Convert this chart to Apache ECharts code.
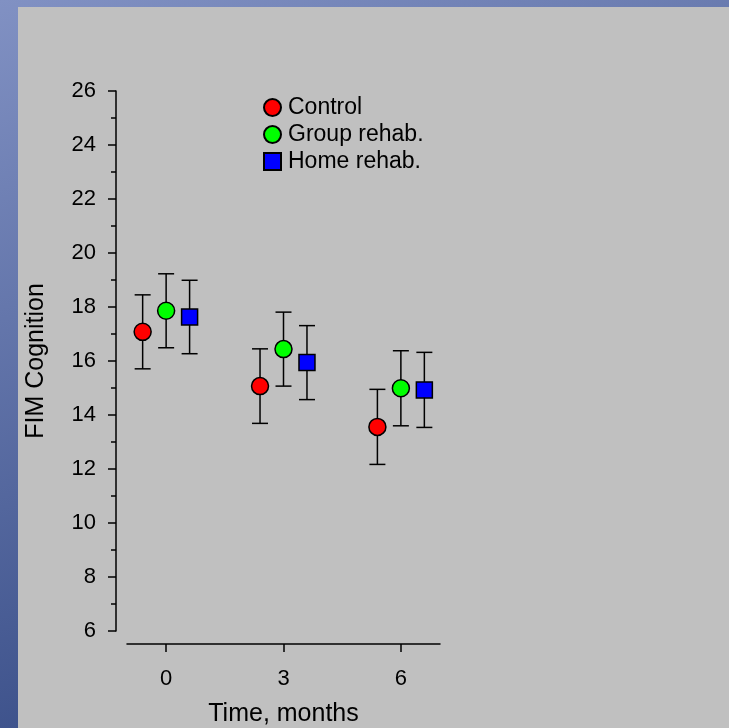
<!DOCTYPE html>
<html>
<head>
<meta charset="utf-8">
<script src="https://cdn.jsdelivr.net/npm/echarts@6/dist/echarts.min.js"></script>
<style>html,body{margin:0;padding:0;}#c{width:729px;height:728px;}</style>
</head>
<body>
<div id="c"></div>
<script>
var times = [0, 3, 6];
var xTicks = [0, 3, 6];
var yTicks = [6, 8, 10, 12, 14, 16, 18, 20, 22, 24, 26];
var seriesNames = ['Control', 'Group rehab.', 'Home rehab.'];
var offsets = [-0.6, 0, 0.6];
var control = [17.08, 15.07, 13.56];
var controlErr = [1.37, 1.38, 1.39];
var group = [17.86, 16.44, 14.99];
var groupErr = [1.37, 1.37, 1.39];
var home = [17.63, 15.94, 14.93];
var homeErr = [1.36, 1.37, 1.39];

var means = [control, group, home];
var errs = [controlErr, groupErr, homeErr];
var colors = ['#ff0000', '#00ff00', '#0000ff'];
var symbols = ['circle', 'circle', 'rect'];
var symbolSizes = [17, 17, 16];
var FONT = 'Liberation Sans, Arial, sans-serif';

var chart = echarts.init(document.getElementById('c'));
var series = [];
means.forEach(function (m, s) {
  var errData = times.map(function (t, i) {
    return [t + offsets[s], m[i] - errs[s][i], m[i] + errs[s][i]];
  });
  series.push({
    type: 'custom',
    name: seriesNames[s] + ' err',
    z: 1,
    silent: true,
    data: errData,
    renderItem: function (params, api) {
      var x = api.value(0);
      var lo = api.coord([x, api.value(1)]);
      var hi = api.coord([x, api.value(2)]);
      var cap = 8;
      var st = { stroke: '#000', lineWidth: 1.5 };
      return {
        type: 'group',
        children: [
          { type: 'line', shape: { x1: lo[0], y1: lo[1], x2: hi[0], y2: hi[1] }, style: st },
          { type: 'line', shape: { x1: lo[0] - cap, y1: lo[1], x2: lo[0] + cap, y2: lo[1] }, style: st },
          { type: 'line', shape: { x1: hi[0] - cap, y1: hi[1], x2: hi[0] + cap, y2: hi[1] }, style: st }
        ]
      };
    }
  });
  series.push({
    type: 'scatter',
    name: seriesNames[s],
    z: 5,
    symbol: symbols[s],
    symbolSize: symbolSizes[s],
    itemStyle: { color: colors[s], borderColor: '#000', borderWidth: 1.5, opacity: 1 },
    data: times.map(function (t, i) { return [t + offsets[s], m[i]]; })
  });
});

var option = {
  animation: false,
  backgroundColor: {
    type: 'linear', x: 0, y: 0, x2: 0.35, y2: 1,
    colorStops: [{ offset: 0, color: '#8191c3' }, { offset: 1, color: '#374c86' }]
  },
  graphic: [{
    type: 'rect', z: -10, silent: true,
    shape: { x: 18, y: 7, width: 729 - 18, height: 728 - 7 },
    style: { fill: '#c0c0c0' }
  }],
  textStyle: { fontFamily: FONT },
  legend: {
    data: seriesNames,
    orient: 'vertical',
    left: 263,
    top: 96,
    padding: 0,
    itemWidth: 17,
    itemHeight: 17,
    itemGap: 4,
    textStyle: { fontSize: 23, color: '#000', fontFamily: FONT, padding: [0, 0, 0, 2] },
    selectedMode: false
  },
  grid: { left: 127, right: 289, top: 91, bottom: 97, outerBoundsMode: 'none', containLabel: false },
  xAxis: {
    type: 'value',
    min: -1, max: 7,
    offset: 13,
    name: 'Time, months',
    nameLocation: 'middle',
    nameGap: 58,
    nameTextStyle: { fontSize: 25, color: '#000', fontFamily: FONT },
    axisLine: { show: true, onZero: false, lineStyle: { color: '#000', width: 1.5 } },
    axisTick: { show: true, length: 8, customValues: xTicks, lineStyle: { color: '#000', width: 1.5 } },
    axisLabel: { customValues: xTicks, fontSize: 22, color: '#000', margin: 24, fontFamily: FONT },
    splitLine: { show: false }
  },
  yAxis: {
    type: 'value',
    min: 6, max: 26, interval: 2,
    offset: 11,
    name: 'FIM Cognition',
    nameLocation: 'middle',
    nameGap: 67,
    nameTextStyle: { fontSize: 25, color: '#000', fontFamily: FONT },
    axisLine: { show: true, onZero: false, lineStyle: { color: '#000', width: 1.5 } },
    axisTick: { show: true, length: 8, customValues: yTicks, lineStyle: { color: '#000', width: 1.5 } },
    minorTick: { show: true, splitNumber: 2, length: 5, lineStyle: { color: '#000', width: 1.5 } },
    axisLabel: { customValues: yTicks, fontSize: 22, color: '#000', margin: 20, fontFamily: FONT },
    splitLine: { show: false }
  },
  series: series
};
chart.setOption(option);
</script>
</body>
</html>
